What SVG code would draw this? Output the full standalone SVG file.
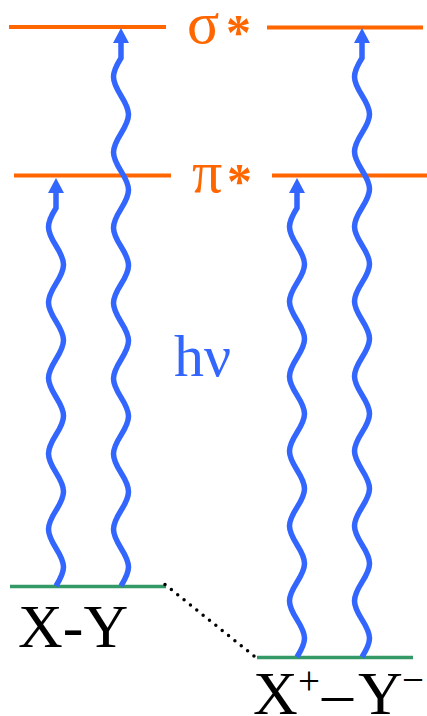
<svg xmlns="http://www.w3.org/2000/svg" width="427" height="716" viewBox="0 0 427 716">
<style>
.lvl{stroke:#FF6600;stroke-width:4;fill:none}
.gnd{stroke:#339966;stroke-width:3.5;fill:none}
.wave{stroke:#3366FF;stroke-width:5.5;fill:none;marker-start:url(#head)}
.orb{font-family:"Liberation Serif","Times New Roman",serif;fill:#FF6600;font-size:60px}
.ast{font-size:50px;font-weight:bold}
.mol{font-family:"Liberation Serif","Times New Roman",serif;fill:#000;font-size:62px}
.hv{font-family:"Liberation Serif","Times New Roman",serif;fill:#3366FF;font-size:60px}
</style>
<defs>
<marker id="head" markerUnits="userSpaceOnUse" viewBox="0 0 15 16" markerWidth="15" markerHeight="16" refX="0" refY="8" orient="auto-start-reverse">
<path d="M0,0 L15,8 L0,16 Z" fill="#3366FF"/>
</marker>
</defs>
<rect width="427" height="716" fill="#fff"/>
<g id="sigma-left"><line class="lvl" x1="9" y1="27" x2="166" y2="27"/></g>
<g id="sigma-right"><line class="lvl" x1="267" y1="27.5" x2="423" y2="27.5"/></g>
<g id="pi-left"><line class="lvl" x1="14" y1="175.5" x2="171" y2="175.5"/></g>
<g id="pi-right"><line class="lvl" x1="272" y1="175.5" x2="427" y2="175.5"/></g>
<g id="sigma-label"><text class="orb" x="187" y="43">σ<tspan class="ast" x="226" y="49">*</tspan></text></g>
<g id="pi-label"><text class="orb" x="192" y="192">π<tspan class="ast" x="227" y="198">*</tspan></text></g>
<g id="hv-label"><text class="hv" x="174" y="376">hν</text></g>
<g id="xy-ground"><line class="gnd" x1="10" y1="586.5" x2="166" y2="586.5"/><text class="mol" x="18" y="647">X-Y</text></g>
<g id="ion-ground"><line class="gnd" x1="257" y1="657.5" x2="413" y2="657.5"/><text class="mol" x="253" y="714">X<tspan x="298" y="694" font-size="39">+</tspan><tspan x="322" y="714">–</tspan><tspan x="358" y="714">Y</tspan><tspan x="402" y="693" font-size="39">−</tspan></text></g>
<g id="connectors">
<path class="wave" d="M56,193 V208 c-10,16 -10,21.8 0,37.8 c10,16 10,21.8 0,37.8 c-10,16 -10,21.8 0,37.8 c10,16 10,21.8 0,37.8 c-10,16 -10,21.8 0,37.8 c10,16 10,21.8 0,37.8 c-10,16 -10,21.8 0,37.8 c10,16 10,21.8 0,37.8 c-10,16 -10,21.8 0,37.8 c10,16 10,21.8 0,37.8"/>
<path class="wave" d="M121,43 V58 c-10,16 -10,21.71 0,37.71 c10,16 10,21.71 0,37.71 c-10,16 -10,21.71 0,37.71 c10,16 10,21.71 0,37.71 c-10,16 -10,21.71 0,37.71 c10,16 10,21.71 0,37.71 c-10,16 -10,21.71 0,37.71 c10,16 10,21.71 0,37.71 c-10,16 -10,21.71 0,37.71 c10,16 10,21.71 0,37.71 c-10,16 -10,21.71 0,37.71 c10,16 10,21.71 0,37.71 c-10,16 -10,21.71 0,37.71 c10,16 10,21.71 0,37.71"/>
<path class="wave" d="M297,193 V208 c-10,15.9 -10,21.52 0,37.42 c10,15.9 10,21.52 0,37.42 c-10,15.9 -10,21.52 0,37.42 c10,15.9 10,21.52 0,37.42 c-10,15.9 -10,21.52 0,37.42 c10,15.9 10,21.52 0,37.42 c-10,15.9 -10,21.52 0,37.42 c10,15.9 10,21.52 0,37.42 c-10,15.9 -10,21.52 0,37.42 c10,15.9 10,21.52 0,37.42 c-10,15.9 -10,21.52 0,37.42 c10,15.9 10,21.52 0,37.42"/>
<path class="wave" d="M362,43 V58 c-10,15.9 -10,21.54 0,37.44 c10,15.9 10,21.54 0,37.44 c-10,15.9 -10,21.54 0,37.44 c10,15.9 10,21.54 0,37.44 c-10,15.9 -10,21.54 0,37.44 c10,15.9 10,21.54 0,37.44 c-10,15.9 -10,21.54 0,37.44 c10,15.9 10,21.54 0,37.44 c-10,15.9 -10,21.54 0,37.44 c10,15.9 10,21.54 0,37.44 c-10,15.9 -10,21.54 0,37.44 c10,15.9 10,21.54 0,37.44 c-10,15.9 -10,21.54 0,37.44 c10,15.9 10,21.54 0,37.44 c-10,15.9 -10,21.54 0,37.44 c10,15.9 10,21.54 0,37.44"/>
<line x1="165" y1="584.5" x2="254" y2="656" stroke="#000" stroke-width="3.5" stroke-linecap="round" stroke-dasharray="0 8.15"/>
</g>
</svg>
